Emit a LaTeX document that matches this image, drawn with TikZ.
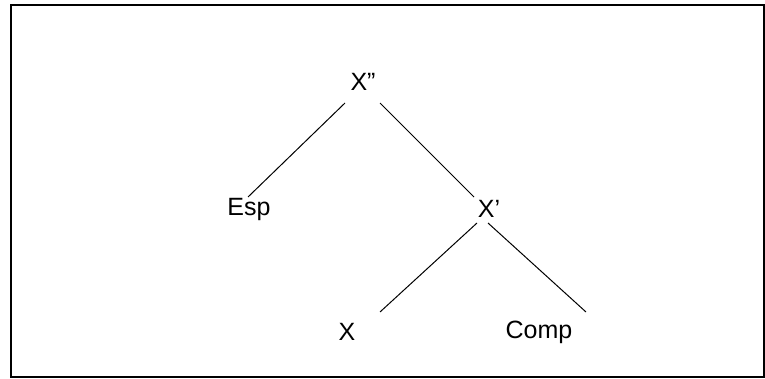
\documentclass[tikz,border=0pt]{standalone}
\usepackage{fontspec}
\setmainfont{Liberation Sans}
\begin{document}
\begin{tikzpicture}[x=1pt,y=-1pt,
  lbl/.style={inner sep=0pt,font=\fontsize{25}{28}\selectfont},
  edge/.style={line width=1pt}]
\useasboundingbox (0,0) rectangle (765,379);
\draw[line width=1.4pt] (11,5) rectangle (764,377);
\node[lbl] (xpp) at (363,82) {X”};
\node[lbl] (esp) at (249,209) {Esp};
\node[lbl] (xp) at (489,209) {X’};
\node[lbl] (x) at (347,332) {X};
\node[lbl] (comp) at (539,332) {Comp};
\coordinate (a1) at (345,103);
\coordinate (a2) at (248,197);
\coordinate (b1) at (380,103);
\coordinate (b2) at (474,197);
\coordinate (c1) at (477,223);
\coordinate (c2) at (380,312);
\coordinate (d1) at (488,223);
\coordinate (d2) at (586,312);
\draw[edge] (a1) -- (a2);
\draw[edge] (b1) -- (b2);
\draw[edge] (c1) -- (c2);
\draw[edge] (d1) -- (d2);
\end{tikzpicture}
\end{document}
